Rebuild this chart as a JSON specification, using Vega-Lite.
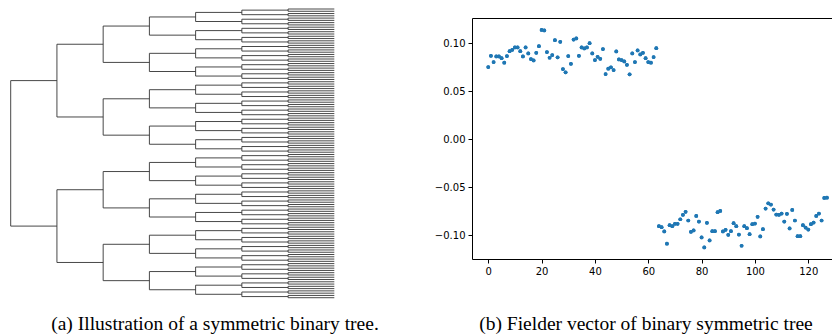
{
  "$schema": "https://vega.github.io/schema/vega-lite/v6.json",
  "background": "white",
  "padding": {"left": 0, "top": 8, "right": 0, "bottom": 0},
  "bounds": "flush",
  "spacing": 132,
  "config": {"view": {"stroke": null}},
  "hconcat": [
    {
      "width": 340,
      "height": 280,
      "title": {"text": "(a) Illustration of a symmetric binary tree.", "orient": "bottom", "anchor": "middle", "frame": "group", "font": "Liberation Serif", "fontSize": 19.5, "fontWeight": "normal", "color": "black", "baseline": "alphabetic", "offset": 32, "dx": 45},
      "data": {"values": [
        {"d":0,"c":1,"a":31.5,"b":95.5},
        {"d":1,"c":2,"a":15.5,"b":47.5},{"d":1,"c":2,"a":79.5,"b":111.5},
        {"d":2,"c":3,"a":7.5,"b":23.5},{"d":2,"c":3,"a":39.5,"b":55.5},{"d":2,"c":3,"a":71.5,"b":87.5},{"d":2,"c":3,"a":103.5,"b":119.5},
        {"d":3,"c":4,"a":3.5,"b":11.5},{"d":3,"c":4,"a":19.5,"b":27.5},{"d":3,"c":4,"a":35.5,"b":43.5},{"d":3,"c":4,"a":51.5,"b":59.5},
        {"d":3,"c":4,"a":67.5,"b":75.5},{"d":3,"c":4,"a":83.5,"b":91.5},{"d":3,"c":4,"a":99.5,"b":107.5},{"d":3,"c":4,"a":115.5,"b":123.5},
        {"d":4,"c":5,"a":1.5,"b":5.5},{"d":4,"c":5,"a":9.5,"b":13.5},{"d":4,"c":5,"a":17.5,"b":21.5},{"d":4,"c":5,"a":25.5,"b":29.5},
        {"d":4,"c":5,"a":33.5,"b":37.5},{"d":4,"c":5,"a":41.5,"b":45.5},{"d":4,"c":5,"a":49.5,"b":53.5},{"d":4,"c":5,"a":57.5,"b":61.5},
        {"d":4,"c":5,"a":65.5,"b":69.5},{"d":4,"c":5,"a":73.5,"b":77.5},{"d":4,"c":5,"a":81.5,"b":85.5},{"d":4,"c":5,"a":89.5,"b":93.5},
        {"d":4,"c":5,"a":97.5,"b":101.5},{"d":4,"c":5,"a":105.5,"b":109.5},{"d":4,"c":5,"a":113.5,"b":117.5},{"d":4,"c":5,"a":121.5,"b":125.5},
        {"d":5,"c":6,"a":0.5,"b":2.5},{"d":5,"c":6,"a":4.5,"b":6.5},{"d":5,"c":6,"a":8.5,"b":10.5},{"d":5,"c":6,"a":12.5,"b":14.5},
        {"d":5,"c":6,"a":16.5,"b":18.5},{"d":5,"c":6,"a":20.5,"b":22.5},{"d":5,"c":6,"a":24.5,"b":26.5},{"d":5,"c":6,"a":28.5,"b":30.5},
        {"d":5,"c":6,"a":32.5,"b":34.5},{"d":5,"c":6,"a":36.5,"b":38.5},{"d":5,"c":6,"a":40.5,"b":42.5},{"d":5,"c":6,"a":44.5,"b":46.5},
        {"d":5,"c":6,"a":48.5,"b":50.5},{"d":5,"c":6,"a":52.5,"b":54.5},{"d":5,"c":6,"a":56.5,"b":58.5},{"d":5,"c":6,"a":60.5,"b":62.5},
        {"d":5,"c":6,"a":64.5,"b":66.5},{"d":5,"c":6,"a":68.5,"b":70.5},{"d":5,"c":6,"a":72.5,"b":74.5},{"d":5,"c":6,"a":76.5,"b":78.5},
        {"d":5,"c":6,"a":80.5,"b":82.5},{"d":5,"c":6,"a":84.5,"b":86.5},{"d":5,"c":6,"a":88.5,"b":90.5},{"d":5,"c":6,"a":92.5,"b":94.5},
        {"d":5,"c":6,"a":96.5,"b":98.5},{"d":5,"c":6,"a":100.5,"b":102.5},{"d":5,"c":6,"a":104.5,"b":106.5},{"d":5,"c":6,"a":108.5,"b":110.5},
        {"d":5,"c":6,"a":112.5,"b":114.5},{"d":5,"c":6,"a":116.5,"b":118.5},{"d":5,"c":6,"a":120.5,"b":122.5},{"d":5,"c":6,"a":124.5,"b":126.5},
        {"d":6,"c":7,"a":0,"b":1},{"d":6,"c":7,"a":2,"b":3},{"d":6,"c":7,"a":4,"b":5},{"d":6,"c":7,"a":6,"b":7},
        {"d":6,"c":7,"a":8,"b":9},{"d":6,"c":7,"a":10,"b":11},{"d":6,"c":7,"a":12,"b":13},{"d":6,"c":7,"a":14,"b":15},
        {"d":6,"c":7,"a":16,"b":17},{"d":6,"c":7,"a":18,"b":19},{"d":6,"c":7,"a":20,"b":21},{"d":6,"c":7,"a":22,"b":23},
        {"d":6,"c":7,"a":24,"b":25},{"d":6,"c":7,"a":26,"b":27},{"d":6,"c":7,"a":28,"b":29},{"d":6,"c":7,"a":30,"b":31},
        {"d":6,"c":7,"a":32,"b":33},{"d":6,"c":7,"a":34,"b":35},{"d":6,"c":7,"a":36,"b":37},{"d":6,"c":7,"a":38,"b":39},
        {"d":6,"c":7,"a":40,"b":41},{"d":6,"c":7,"a":42,"b":43},{"d":6,"c":7,"a":44,"b":45},{"d":6,"c":7,"a":46,"b":47},
        {"d":6,"c":7,"a":48,"b":49},{"d":6,"c":7,"a":50,"b":51},{"d":6,"c":7,"a":52,"b":53},{"d":6,"c":7,"a":54,"b":55},
        {"d":6,"c":7,"a":56,"b":57},{"d":6,"c":7,"a":58,"b":59},{"d":6,"c":7,"a":60,"b":61},{"d":6,"c":7,"a":62,"b":63},
        {"d":6,"c":7,"a":64,"b":65},{"d":6,"c":7,"a":66,"b":67},{"d":6,"c":7,"a":68,"b":69},{"d":6,"c":7,"a":70,"b":71},
        {"d":6,"c":7,"a":72,"b":73},{"d":6,"c":7,"a":74,"b":75},{"d":6,"c":7,"a":76,"b":77},{"d":6,"c":7,"a":78,"b":79},
        {"d":6,"c":7,"a":80,"b":81},{"d":6,"c":7,"a":82,"b":83},{"d":6,"c":7,"a":84,"b":85},{"d":6,"c":7,"a":86,"b":87},
        {"d":6,"c":7,"a":88,"b":89},{"d":6,"c":7,"a":90,"b":91},{"d":6,"c":7,"a":92,"b":93},{"d":6,"c":7,"a":94,"b":95},
        {"d":6,"c":7,"a":96,"b":97},{"d":6,"c":7,"a":98,"b":99},{"d":6,"c":7,"a":100,"b":101},{"d":6,"c":7,"a":102,"b":103},
        {"d":6,"c":7,"a":104,"b":105},{"d":6,"c":7,"a":106,"b":107},{"d":6,"c":7,"a":108,"b":109},{"d":6,"c":7,"a":110,"b":111},
        {"d":6,"c":7,"a":112,"b":113},{"d":6,"c":7,"a":114,"b":115},{"d":6,"c":7,"a":116,"b":117},{"d":6,"c":7,"a":118,"b":119},
        {"d":6,"c":7,"a":120,"b":121},{"d":6,"c":7,"a":122,"b":123},{"d":6,"c":7,"a":124,"b":125},{"d":6,"c":7,"a":126,"b":127}
      ]},
      "layer": [
        {
          "mark": {"type": "rule", "color": "#333333", "strokeWidth": 0.9},
          "encoding": {
            "x": {"field": "d", "type": "quantitative", "scale": {"domain": [-0.2315, 7.123], "nice": false, "zero": false}, "axis": null},
            "y": {"field": "a", "type": "quantitative", "scale": {"domain": [3.959, 127.13], "nice": false, "zero": false, "reverse": true}, "axis": null},
            "y2": {"field": "b"}
          }
        },
        {
          "mark": {"type": "rule", "color": "#333333", "strokeWidth": 0.9},
          "encoding": {
            "x": {"field": "d", "type": "quantitative", "scale": {"domain": [-0.2315, 7.123], "nice": false, "zero": false}, "axis": null},
            "x2": {"field": "c"},
            "y": {"field": "a", "type": "quantitative", "scale": {"domain": [3.959, 127.13], "nice": false, "zero": false, "reverse": true}, "axis": null}
          }
        },
        {
          "mark": {"type": "rule", "color": "#333333", "strokeWidth": 0.9},
          "encoding": {
            "x": {"field": "d", "type": "quantitative", "scale": {"domain": [-0.2315, 7.123], "nice": false, "zero": false}, "axis": null},
            "x2": {"field": "c"},
            "y": {"field": "b", "type": "quantitative", "scale": {"domain": [3.959, 127.13], "nice": false, "zero": false, "reverse": true}, "axis": null}
          }
        }
      ]
    },
    {
      "width": 360,
      "height": 241,
      "title": {"text": "(b) Fielder vector of binary symmetric tree", "orient": "bottom", "anchor": "middle", "frame": "group", "font": "Liberation Serif", "fontSize": 19.5, "fontWeight": "normal", "color": "black", "baseline": "alphabetic", "offset": 54, "dx": -6},
      "data": {"values": [
        {"i":0,"v":0.0754},{"i":1,"v":0.0871},{"i":2,"v":0.0806},{"i":3,"v":0.0865},{"i":4,"v":0.0865},{"i":5,"v":0.0847},{"i":6,"v":0.0799},{"i":7,"v":0.0868},
        {"i":8,"v":0.0920},{"i":9,"v":0.0934},{"i":10,"v":0.0958},{"i":11,"v":0.0958},{"i":12,"v":0.0920},{"i":13,"v":0.0865},{"i":14,"v":0.0958},{"i":15,"v":0.0896},
        {"i":16,"v":0.0837},{"i":17,"v":0.0823},{"i":18,"v":0.0903},{"i":19,"v":0.0972},{"i":20,"v":0.1141},{"i":21,"v":0.1135},{"i":22,"v":0.0910},{"i":23,"v":0.0851},
        {"i":24,"v":0.0879},{"i":25,"v":0.1034},{"i":26,"v":0.0855},{"i":27,"v":0.1017},{"i":28,"v":0.0733},{"i":29,"v":0.0699},{"i":30,"v":0.0868},{"i":31,"v":0.0788},
        {"i":32,"v":0.1041},{"i":33,"v":0.1052},{"i":34,"v":0.0871},{"i":35,"v":0.0958},{"i":36,"v":0.0948},{"i":37,"v":0.0958},{"i":38,"v":0.1003},{"i":39,"v":0.0896},
        {"i":40,"v":0.0827},{"i":41,"v":0.0861},{"i":42,"v":0.0840},{"i":43,"v":0.0941},{"i":44,"v":0.0681},{"i":45,"v":0.0737},{"i":46,"v":0.0751},{"i":47,"v":0.0723},
        {"i":48,"v":0.0917},{"i":49,"v":0.0834},{"i":50,"v":0.0827},{"i":51,"v":0.0813},{"i":52,"v":0.0778},{"i":53,"v":0.0678},{"i":54,"v":0.0896},{"i":55,"v":0.0806},
        {"i":56,"v":0.0927},{"i":57,"v":0.0886},{"i":58,"v":0.0903},{"i":59,"v":0.0847},{"i":60,"v":0.0806},{"i":61,"v":0.0799},{"i":62,"v":0.0858},{"i":63,"v":0.0951},
        {"i":64,"v":-0.0903},{"i":65,"v":-0.0914},{"i":66,"v":-0.0958},{"i":67,"v":-0.1086},{"i":68,"v":-0.0893},{"i":69,"v":-0.0903},{"i":70,"v":-0.0879},{"i":71,"v":-0.0879},
        {"i":72,"v":-0.0831},{"i":73,"v":-0.0785},{"i":74,"v":-0.0754},{"i":75,"v":-0.0844},{"i":76,"v":-0.0962},{"i":77,"v":-0.0948},{"i":78,"v":-0.0796},{"i":79,"v":-0.0855},
        {"i":80,"v":-0.1021},{"i":81,"v":-0.1125},{"i":82,"v":-0.0868},{"i":83,"v":-0.1052},{"i":84,"v":-0.0955},{"i":85,"v":-0.0955},{"i":86,"v":-0.0758},{"i":87,"v":-0.0744},
        {"i":88,"v":-0.0958},{"i":89,"v":-0.0941},{"i":90,"v":-0.0993},{"i":91,"v":-0.0955},{"i":92,"v":-0.0872},{"i":93,"v":-0.0903},{"i":94,"v":-0.0990},{"i":95,"v":-0.1107},
        {"i":96,"v":-0.0903},{"i":97,"v":-0.0924},{"i":98,"v":-0.0986},{"i":99,"v":-0.0883},{"i":100,"v":-0.0876},{"i":101,"v":-0.0806},{"i":102,"v":-0.1010},{"i":103,"v":-0.0934},
        {"i":104,"v":-0.0720},{"i":105,"v":-0.0665},{"i":106,"v":-0.0678},{"i":107,"v":-0.0730},{"i":108,"v":-0.0782},{"i":109,"v":-0.0785},{"i":110,"v":-0.0772},{"i":111,"v":-0.0855},
        {"i":112,"v":-0.0775},{"i":113,"v":-0.0927},{"i":114,"v":-0.0734},{"i":115,"v":-0.0844},{"i":116,"v":-0.1007},{"i":117,"v":-0.1007},{"i":118,"v":-0.0893},{"i":119,"v":-0.0917},
        {"i":120,"v":-0.0938},{"i":121,"v":-0.0883},{"i":122,"v":-0.0865},{"i":123,"v":-0.0796},{"i":124,"v":-0.0772},{"i":125,"v":-0.0844},{"i":126,"v":-0.0609},{"i":127,"v":-0.0606}
      ]},
      "resolve": {"axis": {"x": "independent"}},
      "layer": [
        {
          "mark": {"type": "circle", "size": 14, "color": "#1f77b4", "opacity": 1},
          "encoding": {
            "x": {"field": "i", "type": "quantitative", "scale": {"domain": [-6.1, 128.9], "nice": false, "zero": false},
                  "axis": {"orient": "bottom", "values": [0, 20, 40, 60, 80, 100, 120], "grid": false, "title": null, "tickSize": 4, "tickColor": "black", "tickWidth": 1, "domainColor": "black", "domainWidth": 1, "labelFont": "DejaVu Sans", "labelFontSize": 10, "labelColor": "black", "labelPadding": 3}},
            "y": {"field": "v", "type": "quantitative", "scale": {"domain": [-0.1245, 0.1265], "nice": false, "zero": false},
                  "axis": {"values": [-0.1, -0.05, 0, 0.05, 0.1], "format": ".2f", "grid": false, "title": null, "tickSize": 4, "tickColor": "black", "tickWidth": 1, "domainColor": "black", "domainWidth": 1, "labelFont": "DejaVu Sans", "labelFontSize": 10, "labelColor": "black", "labelPadding": 3}}
          }
        },
        {
          "mark": {"type": "circle", "size": 14, "color": "#1f77b4", "opacity": 1},
          "encoding": {
            "x": {"field": "i", "type": "quantitative", "scale": {"domain": [-6.1, 128.9], "nice": false, "zero": false},
                  "axis": {"orient": "top", "labels": false, "ticks": false, "grid": false, "title": null, "domainColor": "black", "domainWidth": 1}},
            "y": {"field": "v", "type": "quantitative"}
          }
        }
      ]
    }
  ]
}
